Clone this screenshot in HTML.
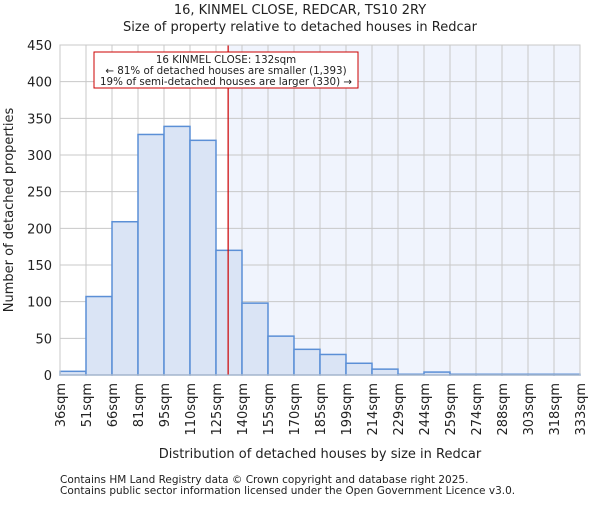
<!DOCTYPE html>
<html><head><meta charset="utf-8"><style>body{margin:0;background:#fff}svg{font-family:"DejaVu Sans","Liberation Sans",sans-serif}</style></head>
<body>
<svg id="c" width="600" height="500"></svg>
<script>
const binEdges=[36,51,66,81,95,110,125,140,155,170,185,199,214,229,244,259,274,288,303,318,333];
const counts=[5,107,209,328,339,320,170,98,53,35,28,16,8,1,4,1,1,1,1,1];
const yTicks=[0,50,100,150,200,250,300,350,400,450];
const markerBin=6, markerFrac=7/15;
const L=60,R=580,T=45,B=375,yMax=450;
const n=counts.length,bw=(R-L)/n;
const xi=i=>L+i*bw;
const y=v=>B-(v/yMax)*(B-T);
const NS="http://www.w3.org/2000/svg",svg=document.getElementById('c');
function mk(t,a,p){const e=document.createElementNS(NS,t);for(const k in a)e.setAttribute(k,a[k]);(p||svg).appendChild(e);return e;}
const mx=xi(markerBin+markerFrac);
let e=mk('rect',{x:mx,y:T,width:R-mx,height:B-T,fill:'#f0f4fd'});


for(const t of yTicks){e=mk('line',{x1:L,x2:R,y1:y(t),y2:y(t),stroke:'#c8c8c8'});


e=mk('text',{x:L-8,y:y(t)+5,'text-anchor':'end','font-size':13,fill:'#222'});e.textContent=t;

}
for(let i=0;i<=n;i++){e=mk('line',{x1:xi(i),x2:xi(i),y1:T,y2:B,stroke:'#c8c8c8'});


const tx=mk('text',{transform:`translate(${xi(i)+5},${B+8}) rotate(-90)`,'text-anchor':'end','font-size':13,fill:'#222'});tx.textContent=binEdges[i]+'sqm';

}
counts.forEach((c,i)=>{e=mk('rect',{x:xi(i),y:y(c),width:bw,height:B-y(c),fill:'#dae4f5',stroke:'#5b8fd6','stroke-width':1.5});

});
e=mk('line',{x1:mx,x2:mx,y1:T,y2:B,stroke:'#cc0000','stroke-width':1.2});


e=mk('rect',{x:94,y:52,width:264,height:36,fill:'#fff',stroke:'#cc0000'});


[['16 KINMEL CLOSE: 132sqm',63],['← 81% of detached houses are smaller (1,393)',74],['19% of semi-detached houses are larger (330) →',85]].forEach(([t,yy])=>{e=mk('text',{x:226,y:yy,'text-anchor':'middle','font-size':10.3,fill:'#222'});e.textContent=t;

});
e=mk('rect',{x:L,y:T,width:R-L,height:B-T,fill:'none',stroke:'#c8c8c8'});


const texts=[['16, KINMEL CLOSE, REDCAR, TS10 2RY',300,14,13,'middle','chart-title'],['Size of property relative to detached houses in Redcar',300,31,13,'middle','chart-subtitle'],['Distribution of detached houses by size in Redcar',320,458,13,'middle','x-axis-title'],['Contains HM Land Registry data © Crown copyright and database right 2025.',60,483,10.5,'start','footer-line-1'],['Contains public sector information licensed under the Open Government Licence v3.0.',60,494,10.5,'start','footer-line-2']];
for(const [t,x0,y0,fs,a,nm] of texts){e=mk('text',{x:x0,y:y0,'font-size':fs,'text-anchor':a,fill:'#222'});e.textContent=t;

}
e=mk('text',{transform:'translate(13,210) rotate(-90)','text-anchor':'middle','font-size':13,fill:'#222'});e.textContent='Number of detached properties';


</script></body></html>
